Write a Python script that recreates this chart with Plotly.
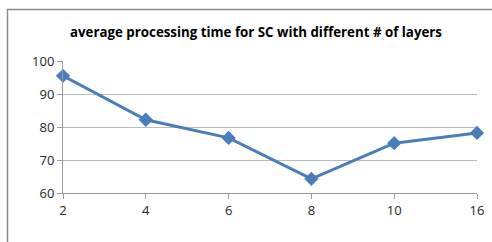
import plotly.graph_objects as go

categories = ["2", "4", "6", "8", "10", "16"]
values = [95.5, 82.2, 76.7, 64.3, 75.1, 78.2]
y_ticks = [60, 70, 80, 90, 100]
title_text = "average processing time for SC with different # of layers"

W, H = 492, 242
L, R, T, B = 63, 15, 61, 49
pw, ph = W - L - R, H - T - B

fig = go.Figure()
fig.add_trace(go.Scatter(
    x=categories, y=values, mode="lines+markers",
    line=dict(color="#4a7ebb", width=3),
    marker=dict(symbol="diamond", size=11, color="#4a7ebb"),
    cliponaxis=False, hoverinfo="skip",
))

def px_to_paper_x(p):
    return (p - L) / pw

def px_to_paper_y(p):
    return (H - B - p) / ph

fig.add_shape(type="rect", xref="paper", yref="paper",
              x0=px_to_paper_x(7.5), x1=px_to_paper_x(W + 5),
              y0=px_to_paper_y(H + 5), y1=px_to_paper_y(9.5),
              line=dict(color="#8c8c8c", width=1.5), layer="below")

fig.update_layout(
    template="none",
    width=W, height=H,
    margin=dict(l=L, r=R, t=T, b=B),
    paper_bgcolor="white", plot_bgcolor="white",
    showlegend=False,
    title=dict(text=title_text, x=256 / W, xanchor="center",
               y=1 - 32 / H, yanchor="middle",
               font=dict(family="Open Sans", size=13.3, color="#000000", weight="bold")),
    font=dict(family="Open Sans", size=13, color="#262626"),
)
fig.update_xaxes(type="category", range=[0, 5], showgrid=False, automargin=False,
                 showline=True, linecolor="#999999", linewidth=1,
                 ticks="outside", ticklen=5, tickcolor="#999999",
                 tickfont=dict(size=13), zeroline=False, fixedrange=True)
fig.update_yaxes(range=[60, 100], tickvals=y_ticks, showgrid=True, automargin=False,
                 gridcolor="#bbbbbb", gridwidth=1,
                 showline=True, linecolor="#999999", linewidth=1,
                 ticks="outside", ticklen=5, tickcolor="#999999",
                 ticksuffix="\u00a0",
                 tickfont=dict(size=13), zeroline=False, fixedrange=True)

fig.write_html("out.html", config={"displayModeBar": False, "staticPlot": True},
               post_script="document.body.style.margin='0';document.body.style.overflow='hidden';")
